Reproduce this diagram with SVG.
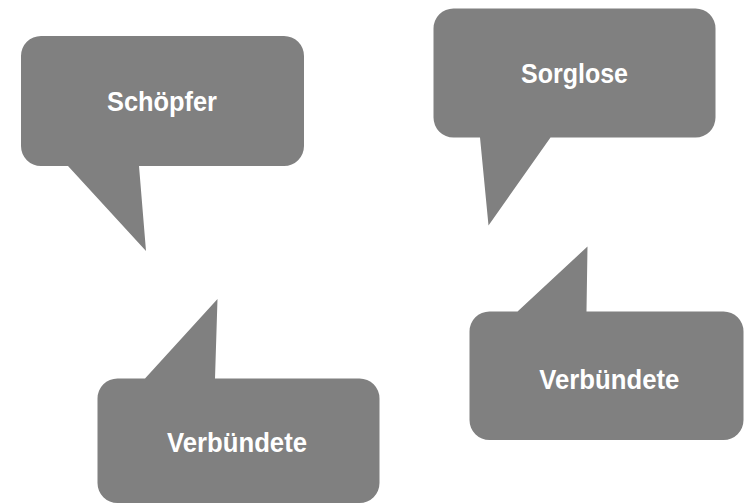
<svg xmlns="http://www.w3.org/2000/svg" width="744" height="504" viewBox="0 0 744 504">
<style>
.bubble{fill:#808080;stroke:none}
.lbl{font-family:"Liberation Sans",Arial,sans-serif;font-weight:bold;font-size:27.5px;fill:#ffffff;text-anchor:middle}
</style>
<rect width="744" height="504" fill="#ffffff"/>
<g id="connectors"></g>
<g id="node-schoepfer">
<path class="bubble" d="M41,36 H284 A20,20 0 0 1 304,56 V146 A20,20 0 0 1 284,166 H139 L146,251 L68,166 H41 A20,20 0 0 1 21,146 V56 A20,20 0 0 1 41,36 Z"/>
<text class="lbl" x="162" y="110.5" textLength="110" lengthAdjust="spacingAndGlyphs">Schöpfer</text>
</g>
<g id="node-sorglose">
<path class="bubble" d="M453.5,8.5 H695.5 A20,20 0 0 1 715.5,28.5 V117.5 A20,20 0 0 1 695.5,137.5 H550.5 L488.5,225.5 L480,137.5 H453.5 A20,20 0 0 1 433.5,117.5 V28.5 A20,20 0 0 1 453.5,8.5 Z"/>
<text class="lbl" x="574.5" y="83" textLength="107" lengthAdjust="spacingAndGlyphs">Sorglose</text>
</g>
<g id="node-verbuendete-1">
<path class="bubble" d="M117.5,378.5 H145 L217.5,299 L215,378.5 H359.5 A20,20 0 0 1 379.5,398.5 V483 A20,20 0 0 1 359.5,503 H117.5 A20,20 0 0 1 97.5,483 V398.5 A20,20 0 0 1 117.5,378.5 Z"/>
<text class="lbl" x="237" y="452.3" textLength="140" lengthAdjust="spacingAndGlyphs">Verbündete</text>
</g>
<g id="node-verbuendete-2">
<path class="bubble" d="M489.5,311.5 H517.5 L587.5,246.5 L586.5,311.5 H723.5 A20,20 0 0 1 743.5,331.5 V420 A20,20 0 0 1 723.5,440 H489.5 A20,20 0 0 1 469.5,420 V331.5 A20,20 0 0 1 489.5,311.5 Z"/>
<text class="lbl" x="609.3" y="388.7" textLength="140" lengthAdjust="spacingAndGlyphs">Verbündete</text>
</g>
</svg>
